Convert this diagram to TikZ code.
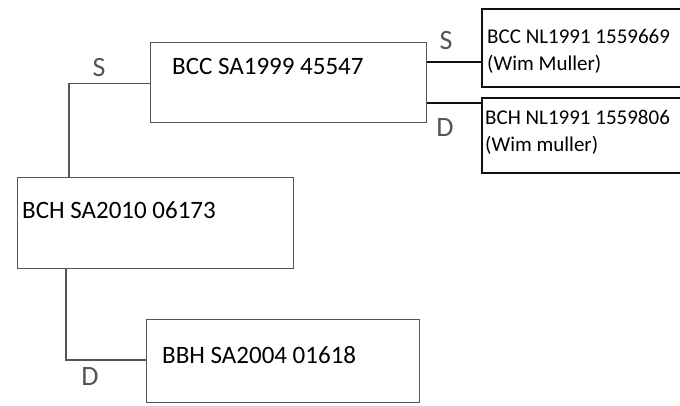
\documentclass[tikz,border=0pt]{standalone}
\usepackage{fontspec}
\setmainfont{Carlito}
\definecolor{pdpencil}{HTML}{555555}
\definecolor{pdink}{HTML}{111111}
\usetikzlibrary{positioning, calc}

\begin{document}
\begin{tikzpicture}[x=1pt, y=-1pt,
    pencil/.style={draw=pdpencil, line width=1.1pt},
    dogbox/.style={pencil, rectangle, inner sep=0pt, anchor=north west},
    inkbox/.style={draw=pdink, line width=1.5pt, rectangle, inner sep=0pt, anchor=north west},
    dogname/.style={font=\fontsize{25}{30}\selectfont, anchor=west, inner sep=0pt},
    inkname/.style={font=\fontsize{21}{27}\selectfont, anchor=west, align=left, inner sep=0pt},
    sexmark/.style={font=\fontsize{28}{28}\selectfont, text=pdpencil, inner sep=0pt}]
    \useasboundingbox (0,0) rectangle (680,405);

    % boxes
    \node[dogbox, minimum width=276pt, minimum height=80pt] (bcc) at (150,42) {};
    \node[dogbox, minimum width=276pt, minimum height=91pt] (bch) at (17,177) {};
    \node[dogbox, minimum width=273pt, minimum height=83pt] (bbh) at (146,319) {};
    \node[inkbox, minimum width=230pt, minimum height=78pt] (sire) at (481,8) {};
    \node[inkbox, minimum width=230pt, minimum height=75pt] (dam) at (481,97) {};

    % names
    \node[dogname] (bccname) at ($(bcc.north west)+(22,24)$) {BCC SA1999 45547};
    \node[dogname] (bchname) at ($(bch.north west)+(5,33)$) {BCH SA2010 06173};
    \node[dogname] (bbhname) at ($(bbh.north west)+(16,36)$) {BBH SA2004 01618};
    \node[inkname] (sirename) at ($(sire.north west)+(6,43)$) {BCC NL1991 1559669\\(Wim Muller)};
    \node[inkname] (damname) at ($(dam.north west)+(4,35)$) {BCH NL1991 1559806\\(Wim muller)};

    % lines
    \coordinate (bccout) at ($(bcc.west)+(0,1)$);
    \coordinate (bchin) at ($(bch.north west)+(52,0)$);
    \coordinate (bchout) at ($(bch.south west)+(49,0)$);
    \coordinate (bbhin) at ($(bbh.north west)+(0,41)$);
    \draw[pencil] (bccout) -| (bchin);
    \draw[pencil] (bchout) |- (bbhin);
    \draw[draw=pdink, line width=1.4pt] ($(bcc.north east)+(0,20)$) -- (sire.west |- {$(bcc.north east)+(0,20)$});
    \draw[draw=pdink, line width=1.4pt] ($(bcc.north east)+(0,61)$) -- (dam.west |- {$(bcc.north east)+(0,61)$});

    % sire / dam marks
    \foreach \pos/\sym/\id in {(99,68)/S/a, (446,41)/S/b, (445,128)/D/c, (90,377)/D/d} {
      \node[sexmark] (mark\id) at \pos {\sym};
    }
\end{tikzpicture}
\end{document}
